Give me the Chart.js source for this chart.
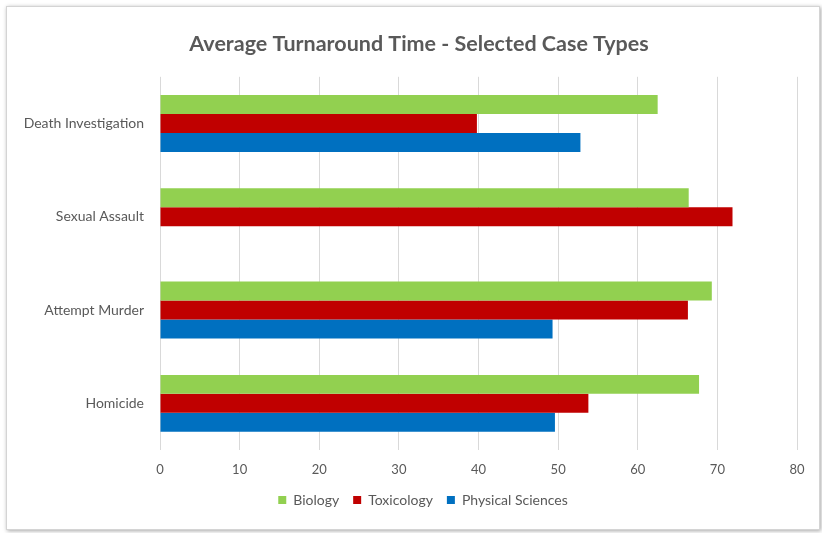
<!DOCTYPE html>
<html>
<head>
<meta charset="utf-8">
<script src="https://cdn.jsdelivr.net/npm/chart.js@4"></script>
<style>
  html, body { margin: 0; padding: 0; background: #ffffff; }
  #frame {
    position: absolute; left: 6px; top: 6px; width: 812px; height: 522px;
    border: 1px solid #d4d4d4; background: #fff;
    box-shadow: 1px 1px 4px rgba(0,0,0,0.35);
  }
  canvas { display: block; }
</style>
</head>
<body>
<div id="frame"><canvas id="tatChart" width="812" height="522"></canvas></div>
<script>
const caseTypes = ['Death Investigation', 'Sexual Assault', 'Attempt Murder', 'Homicide'];
const biology = [62.5, 66.4, 69.3, 67.7];
const toxicology = [39.8, 71.9, 66.3, 53.8];
const physicalSciences = [52.8, null, 49.3, 49.6];
const xTicks = [0, 10, 20, 30, 40, 50, 60, 70, 80];

const textColor = '#595959';
const fontFamily = 'Lato, "Open Sans", sans-serif';

// title and legend sit a bit right of the canvas centre in the original
const nudgeBoxes = {
    id: 'nudgeBoxes',
    afterLayout(chart) {
        if (chart.titleBlock) { chart.titleBlock.left += 17; chart.titleBlock.right += 17; }
        if (chart.legend) { chart.legend.left += 21; chart.legend.right += 21; }
    }
};

const ctx = document.getElementById('tatChart').getContext('2d');

new Chart(ctx, {
    type: 'bar',
    data: {
        labels: caseTypes,
        datasets: [
            { label: 'Biology', data: biology, backgroundColor: '#92D050' },
            { label: 'Toxicology', data: toxicology, backgroundColor: '#C00000' },
            { label: 'Physical Sciences', data: physicalSciences, backgroundColor: '#0070C0' },
        ]
    },
    plugins: [nudgeBoxes],
    options: {
        indexAxis: 'y',
        responsive: false,
        animation: false,
        barPercentage: 1,
        categoryPercentage: 0.61,
        layout: { padding: { left: 0, right: 22, top: 0, bottom: 12 } },
        plugins: {
            title: {
                display: true,
                text: 'Average Turnaround Time - Selected Case Types',
                color: textColor,
                font: { family: fontFamily, size: 21.5, weight: 'bold' },
                padding: { top: 24, bottom: 20 }
            },
            legend: {
                position: 'bottom',
                labels: {
                    color: textColor,
                    font: { family: fontFamily, size: 14 },
                    boxWidth: 8,
                    boxHeight: 8,
                    padding: 14
                }
            },
            tooltip: { enabled: false }
        },
        scales: {
            x: {
                min: 0,
                max: 80,
                afterBuildTicks: (scale) => { scale.ticks = xTicks.map(v => ({ value: v })); },
                afterFit: (scale) => { scale.height = 29; },
                grid: { color: '#d9d9d9', drawTicks: false, lineWidth: 1 },
                border: { display: false },
                ticks: { color: textColor, font: { family: fontFamily, size: 13 }, padding: 12 }
            },
            y: {
                grid: { display: false },
                border: { display: false },
                afterFit: (scale) => { scale.width = 153; },
                ticks: { color: textColor, font: { family: fontFamily, size: 14 }, padding: 8 }
            }
        }
    }
});
</script>
</body>
</html>
